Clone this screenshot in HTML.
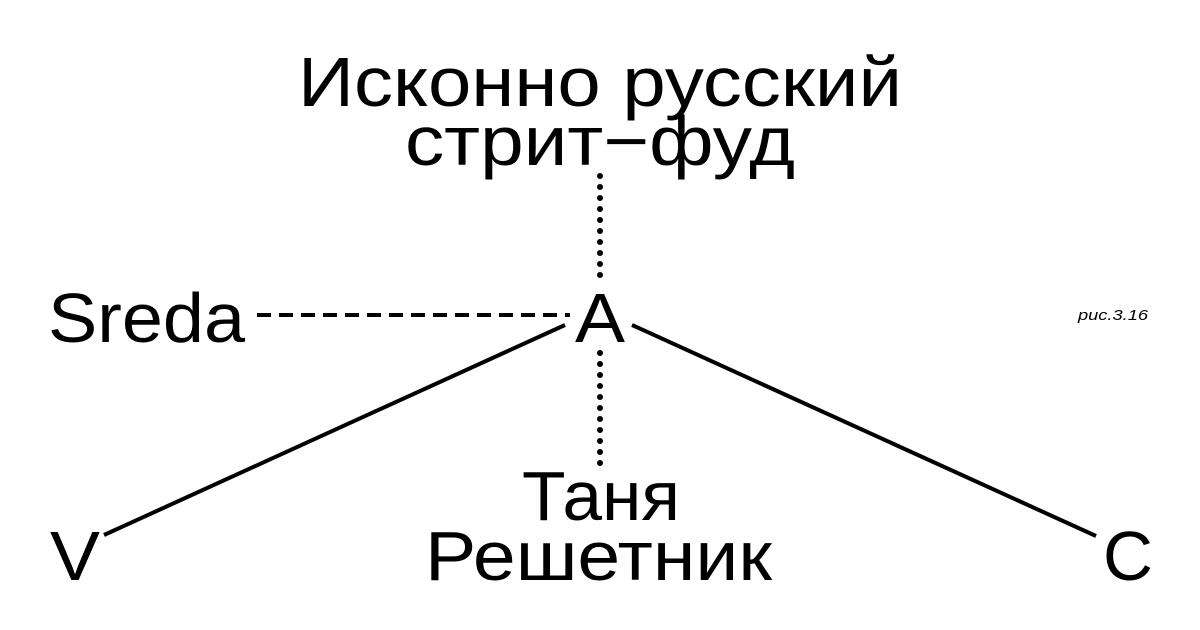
<!DOCTYPE html>
<html><head><meta charset="utf-8"><style>html,body{margin:0;padding:0;background:#fff}svg{display:block}</style></head>
<body>
<svg width="1200" height="630" viewBox="0 0 1200 630" xmlns="http://www.w3.org/2000/svg">
<rect width="1200" height="630" fill="#fff"/>
<g stroke="#000" stroke-width="4" fill="none">
<line x1="600" y1="176" x2="600" y2="280" stroke-dasharray="0 11" stroke-linecap="round" stroke-width="6"/>
<line x1="600" y1="353" x2="600" y2="470" stroke-dasharray="0 11" stroke-linecap="round" stroke-width="6"/>
<line x1="257" y1="315" x2="570" y2="315" stroke-dasharray="14 8"/>
<line x1="565" y1="325" x2="104" y2="535"/>
<line x1="632" y1="325" x2="1096" y2="536"/>
</g>
<g font-family="Liberation Sans, sans-serif" fill="#000" font-size="70">
<text x="298" y="106" textLength="604" lengthAdjust="spacingAndGlyphs">Исконно русский</text>
<text x="405" y="165" textLength="390" lengthAdjust="spacingAndGlyphs">стрит−фуд</text>
<text x="48" y="342" textLength="197" lengthAdjust="spacingAndGlyphs">Sreda</text>
<text x="575" y="342" textLength="50" lengthAdjust="spacingAndGlyphs">A</text>
<text x="522" y="520" textLength="158" lengthAdjust="spacingAndGlyphs">Таня</text>
<text x="425" y="580" textLength="347" lengthAdjust="spacingAndGlyphs">Решетник</text>
<text x="50" y="580" textLength="50" lengthAdjust="spacingAndGlyphs">V</text>
<text x="1103" y="580" textLength="50" lengthAdjust="spacingAndGlyphs">C</text>
<text x="1078" y="320" font-size="15" font-style="italic" textLength="70" lengthAdjust="spacingAndGlyphs">рис.3.16</text>
</g>
</svg>
</body></html>
